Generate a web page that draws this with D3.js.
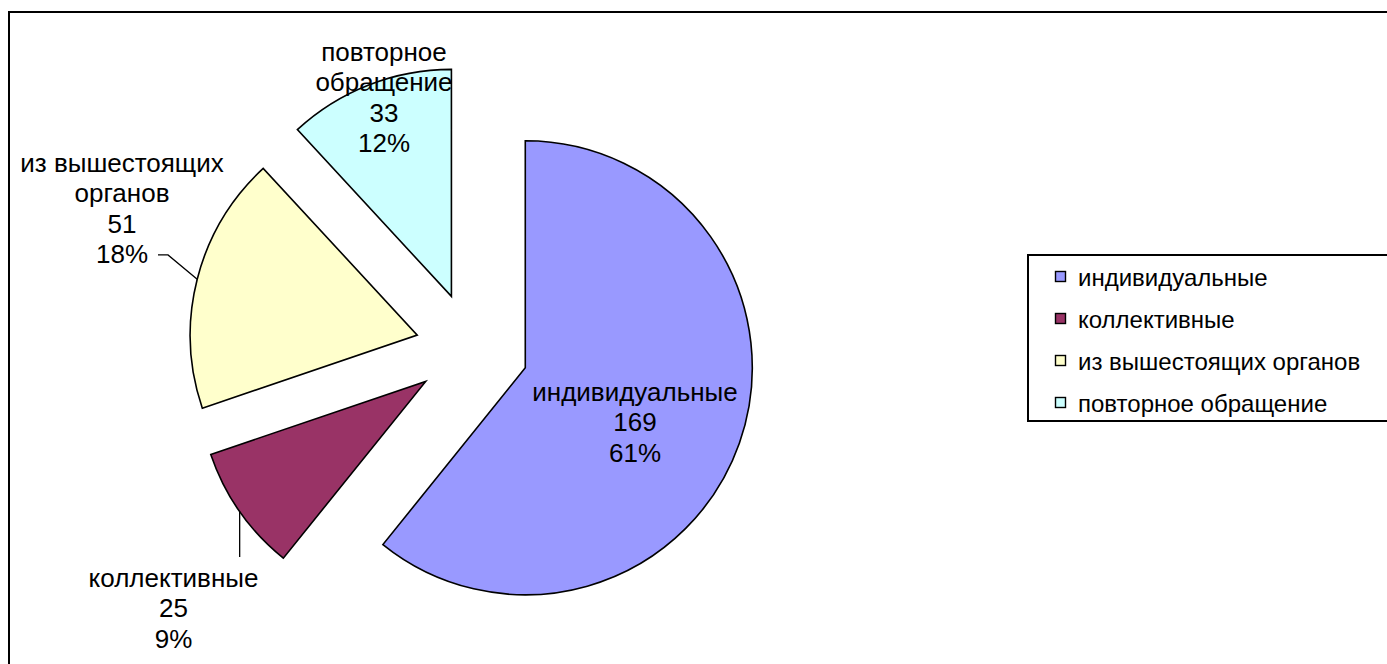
<!DOCTYPE html>
<html>
<head>
<meta charset="utf-8">
<script src="https://cdn.jsdelivr.net/npm/d3@7"></script>
<style>
  html, body { margin: 0; padding: 0; background: #fff; }
  svg { display: block; font-family: "Liberation Sans", Arial, sans-serif; }
</style>
</head>
<body>
<svg id="chart" width="1387" height="664"></svg>
<script>
// ---- data ----
const categories = ["индивидуальные", "коллективные", "из вышестоящих органов", "повторное обращение"];
const values = [169, 25, 51, 33];
const labelNames = [["индивидуальные"], ["коллективные"], ["из вышестоящих", "органов"], ["повторное", "обращение"]];
const colors = ["#9999FF", "#993366", "#FFFFCC", "#CCFFFF"];

// ---- layout ----
const W = 1387, H = 664;
const cx = 472, cy = 349, R = 227, explode = 56.5;
const labelFont = 26, legendFont = 24, lineH = 30.3;
// label block anchors relative to pie centre (text centre x, first baseline y)
const labelLayout = [
  { dx: 163, dy: 52 },
  { dx: -298.5, dy: 238 },
  { dx: -350, dy: -177 },
  { dx: -88, dy: -288 }
];

const svg = d3.select("#chart");

// outer frame
svg.append("rect")
  .attr("x", 9).attr("y", 12)
  .attr("width", W + 20).attr("height", H + 20)
  .attr("fill", "none").attr("stroke", "#000").attr("stroke-width", 2);

const total = d3.sum(values);
const pie = d3.pie().sort(null).startAngle(0).endAngle(2 * Math.PI);
const arcs = pie(values);
const arc = d3.arc().innerRadius(0).outerRadius(R);

function offsetOf(a) {
  const m = (a.startAngle + a.endAngle) / 2;
  return [cx + explode * Math.sin(m), cy - explode * Math.cos(m)];
}

const g = svg.append("g");
g.selectAll("path.slice")
  .data(arcs)
  .join("path")
  .attr("class", "slice")
  .attr("d", arc)
  .attr("transform", d => { const o = offsetOf(d); return `translate(${o[0]},${o[1]})`; })
  .attr("fill", (d, i) => colors[i])
  .attr("stroke", "#000")
  .attr("stroke-width", 1.6)
  .attr("stroke-linejoin", "miter");

// leader lines (from arc mid-point to label)
function arcMidPoint(a) {
  const m = (a.startAngle + a.endAngle) / 2;
  const o = offsetOf(a);
  return [o[0] + R * Math.sin(m), o[1] - R * Math.cos(m)];
}
// yellow slice leader
{
  const p = arcMidPoint(arcs[2]);
  const L = labelLayout[2];
  const yb = cy + L.dy + 3 * lineH - 8;
  svg.append("path")
    .attr("d", d3.line()([p, [cx + L.dx + 46, yb], [cx + L.dx + 36, yb]]))
    .attr("fill", "none").attr("stroke", "#000").attr("stroke-width", 1.3);
}
// maroon slice leader
{
  const p = arcMidPoint(arcs[1]);
  const L = labelLayout[1];
  svg.append("path")
    .attr("d", d3.line()([p, [p[0], cy + L.dy - 30]]))
    .attr("fill", "none").attr("stroke", "#000").attr("stroke-width", 1.3);
}

// data labels
arcs.forEach((a, i) => {
  const L = labelLayout[i];
  const lines = labelNames[i].concat([String(values[i]), Math.round(values[i] / total * 100) + "%"]);
  const t = svg.append("text")
    .attr("text-anchor", "middle")
    .attr("font-size", labelFont)
    .attr("fill", "#000");
  lines.forEach((s, k) => {
    t.append("tspan")
      .attr("x", cx + L.dx)
      .attr("y", cy + L.dy + k * lineH)
      .text(s);
  });
});

// legend
const lg = svg.append("g");
lg.append("rect")
  .attr("x", 1028).attr("y", 255)
  .attr("width", 400).attr("height", 166)
  .attr("fill", "#fff").attr("stroke", "#000").attr("stroke-width", 2);
const rowY = d3.scalePoint().domain(categories).range([278, 404]);
categories.forEach((c, i) => {
  const y = rowY(c);
  lg.append("rect")
    .attr("x", 1055.5).attr("y", y - 6.5)
    .attr("width", 10).attr("height", 10)
    .attr("fill", colors[i]).attr("stroke", "#000").attr("stroke-width", 1.4);
  lg.append("text")
    .attr("x", 1078).attr("y", y + 8)
    .attr("font-size", legendFont)
    .attr("fill", "#000")
    .text(c);
});
</script>
</body>
</html>
